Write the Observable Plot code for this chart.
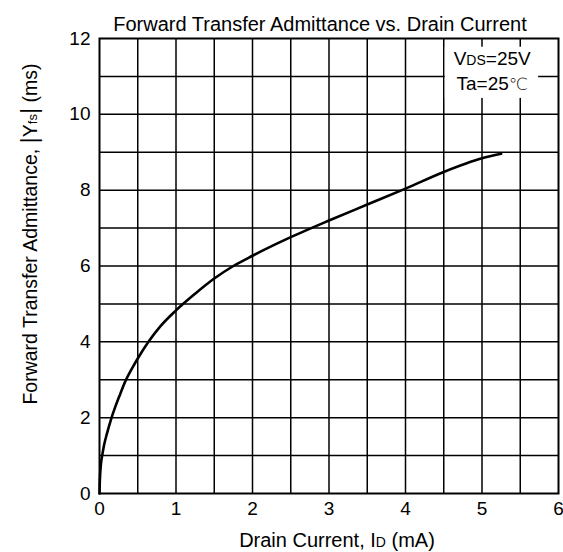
<!DOCTYPE html>
<html><head><meta charset="utf-8">
<script src="https://cdn.jsdelivr.net/npm/d3@7"></script>
<script src="https://cdn.jsdelivr.net/npm/@observablehq/plot@0.6"></script>
<style>
body{margin:0;background:#fff}
svg text{font-family:"Liberation Sans",Arial,sans-serif}
</style>
</head><body><div id="chart"></div>
<script>
const drainCurrent = [0, 0.003, 0.01, 0.02, 0.035, 0.06, 0.1, 0.15, 0.2, 0.27, 0.34, 0.42, 0.5, 0.64, 0.8, 1.0, 1.25, 1.5, 1.75, 2.0, 2.5, 3.0, 3.5, 4.0, 4.5, 5.0, 5.25];
const admittance  = [0, 0.25, 0.55, 0.8, 1.0, 1.28, 1.6, 1.95, 2.25, 2.62, 2.97, 3.28, 3.56, 4.0, 4.42, 4.83, 5.27, 5.67, 6.0, 6.27, 6.76, 7.2, 7.62, 8.04, 8.48, 8.84, 8.96];
const xTicks = [0, 1, 2, 3, 4, 5, 6];
const yTicks = [0, 2, 4, 6, 8, 10, 12];
const xGrid = [0.5, 1, 1.5, 2, 2.5, 3, 3.5, 4, 4.5, 5, 5.5];
const yGrid = [1, 2, 3, 4, 5, 6, 7, 8, 9, 10, 11];
const titleText = "Forward Transfer Admittance vs. Drain Current";
const legendLines = [["V", "DS", "=25V"], ["Ta=25", "", "℃"]];

const points = drainCurrent.map((x, i) => ({x, y: admittance[i]}));

const plot = Plot.plot({
  width: 563, height: 552,
  marginLeft: 99, marginRight: 5, marginTop: 38, marginBottom: 59,
  x: {domain: [0, 6]},
  y: {domain: [0, 12]},
  style: {fontFamily: '"Liberation Sans", Arial, sans-serif', fontSize: "19px", color: "#000", background: "#fff"},
  marks: [
    Plot.ruleX(xGrid, {stroke: "#000", strokeWidth: 1.5}),
    Plot.ruleY(yGrid, {stroke: "#000", strokeWidth: 1.5}),
    Plot.rect([0], {x1: 4.52, x2: 5.74, y1: 10.42, y2: 11.77, fill: "#fff"}),
    Plot.frame({stroke: "#000", strokeWidth: 2}),
    Plot.line(points, {x: "x", y: "y", curve: "monotone-x", stroke: "#000", strokeWidth: 2.6, strokeLinecap: "round", strokeLinejoin: "round"}),
    Plot.axisX({ticks: xTicks, tickFormat: "d", tickSize: 0, tickPadding: 8, label: null, fontSize: 19}),
    Plot.axisY({ticks: yTicks, tickFormat: "d", tickSize: 0, tickPadding: 9, label: null, fontSize: 19})
  ]
});
document.getElementById("chart").appendChild(plot);

const svg = d3.select(plot);
const sx = plot.scale("x"), sy = plot.scale("y");

svg.append("text").attr("x", 320).attr("y", 31).attr("text-anchor", "middle")
  .attr("font-size", 20).attr("fill", "#000").text(titleText);

// x axis label
const xl = svg.append("text").attr("x", 337).attr("y", 547).attr("text-anchor", "middle")
  .attr("font-size", 20).attr("fill", "#000");
xl.append("tspan").text("Drain Current, I");
xl.append("tspan").attr("font-size", 14).text("D");
xl.append("tspan").text(" (mA)");

// y axis label
const yl = svg.append("text").attr("transform", "translate(37,234) rotate(-90)").attr("text-anchor", "middle")
  .attr("font-size", 19.5).attr("fill", "#000");
yl.append("tspan").text("Forward Transfer Admittance, ");
yl.append("tspan").attr("font-size", 24).text("|");
yl.append("tspan").text("Y");
yl.append("tspan").attr("font-size", 13).text("fs");
yl.append("tspan").attr("font-size", 24).text("|");
yl.append("tspan").text(" (ms)");

// legend text
const lx = sx.apply(5.14);
legendLines.forEach((parts, i) => {
  const t = svg.append("text").attr("x", lx).attr("y", sy.apply(i === 0 ? 11.3 : 10.64))
    .attr("text-anchor", "middle").attr("font-size", 19).attr("fill", "#000");
  t.append("tspan").text(parts[0]);
  if (parts[1]) t.append("tspan").attr("font-size", 14).text(parts[1]);
  if (parts[2]) t.append("tspan").attr("font-size", i === 1 ? 17 : null)
    .attr("style", i === 1 ? 'font-family:"DejaVu Sans";font-weight:300' : null).text(parts[2]);
});
</script>
</body></html>
